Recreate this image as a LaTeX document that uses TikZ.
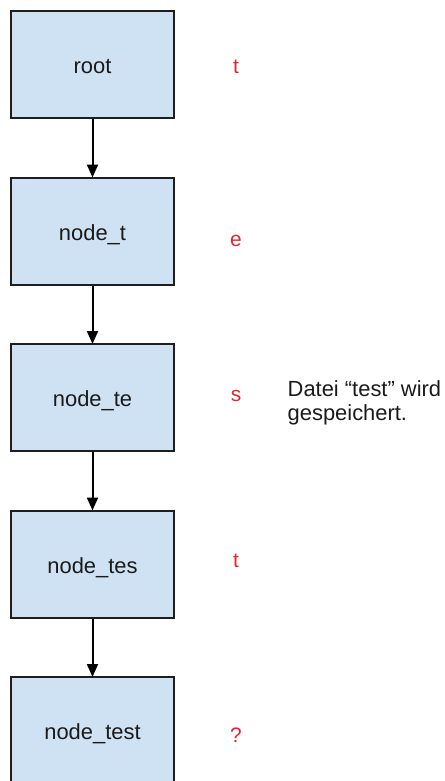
\documentclass[tikz,border=0pt]{standalone}
\usepackage{fontspec}
\setmainfont{Liberation Sans}
\usetikzlibrary{arrows.meta}

\definecolor{boxfill}{HTML}{CFE2F3}
\definecolor{boxline}{HTML}{1E1E1E}
\definecolor{letterred}{HTML}{E3262C}
\definecolor{inktext}{HTML}{1A1A1A}

\tikzset{
  trienode/.style={draw=boxline, line width=2bp, fill=boxfill,
    minimum width=162bp, minimum height=107bp, inner sep=0pt,
    text height=18bp, text depth=0bp, text=inktext,
    font=\fontsize{22}{26}\selectfont},
  letter/.style={anchor=base, inner sep=0pt, text=letterred,
    font=\fontsize{21}{24}\selectfont},
  note/.style={anchor=base west, inner sep=0pt, text=inktext, align=left,
    font=\fontsize{22}{23.5}\selectfont},
  link/.style={draw=black, line width=2bp,
    -{Triangle[length=13bp,width=11bp]}, shorten >=-1bp},
}

\begin{document}
\begin{tikzpicture}[x=1bp, y=-1bp]
  \useasboundingbox (0,0) rectangle (445,781);
  \clip (0,0) rectangle (445,781);

  % chain of trie nodes
  \node[trienode] (root) at (92.5,64.5)  {root};
  \node[trienode] (nt)   at (92.5,231)   {node\_t};
  \node[trienode] (nte)  at (92.5,397.5) {node\_te};
  \node[trienode] (ntes) at (92.5,564)   {node\_tes};
  \node[trienode] (ntest) at (92.5,730.5) {node\_test};

  \draw[link] (root) -- (nt);
  \draw[link] (nt) -- (nte);
  \draw[link] (nte) -- (ntes);
  \draw[link] (ntes) -- (ntest);

  % characters read at each step
  \node[letter] (c1) at (236,74)    {t};
  \node[letter] (c2) at (236,246.5) {e};
  \node[letter] (c3) at (236,401)   {s};
  \node[letter] (c4) at (236,567)   {t};
  \node[letter] (c5) at (236,742)   {?};

  % remark next to node_te (anchored on the baseline of its last line)
  \node[note] (remark) at (287.5,420) {Datei “test” wird\\gespeichert.};
\end{tikzpicture}
\end{document}
